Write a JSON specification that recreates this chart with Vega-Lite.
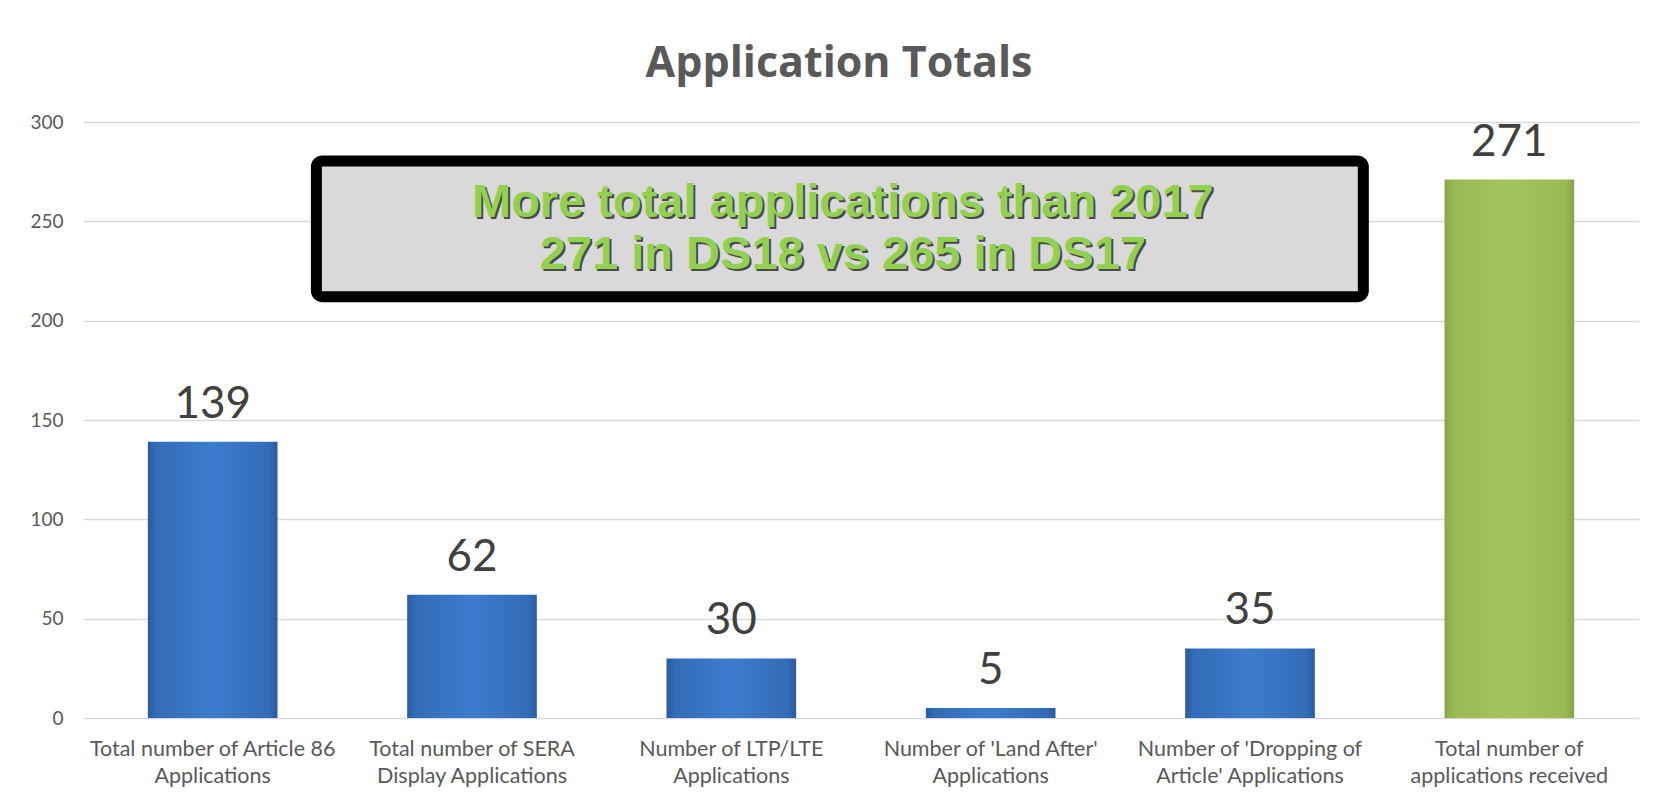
{
  "$schema": "https://vega.github.io/schema/vega-lite/v6.json",
  "width": 1556,
  "height": 596,
  "autosize": "none",
  "padding": {"left": 83, "top": 122, "right": 30, "bottom": 87},
  "background": "white",
  "title": {
    "text": "Application Totals",
    "font": "Open Sans",
    "fontSize": 43,
    "fontWeight": "bold",
    "color": "#595959",
    "anchor": "middle",
    "frame": "group",
    "offset": 27,
    "dx": -22
  },
  "datasets": {
    "apps": [
      {"category": "Total number of Article 86\nApplications", "value": 139, "kind": "blue"},
      {"category": "Total number of SERA\nDisplay Applications", "value": 62, "kind": "blue"},
      {"category": "Number of LTP/LTE\nApplications", "value": 30, "kind": "blue"},
      {"category": "Number of 'Land After'\nApplications", "value": 5, "kind": "blue"},
      {"category": "Number of 'Dropping of\nArticle' Applications", "value": 35, "kind": "blue"},
      {"category": "Total number of\napplications received", "value": 271, "kind": "green"}
    ],
    "note": [
      {"x1": 0.9, "x2": 4.937, "y1": 212.1, "y2": 280.4}
    ],
    "noteText": [
      {"line": "More total applications than 2017", "x": 2.93, "y": 259},
      {"line": "271 in DS18 vs 265 in DS17", "x": 2.93, "y": 233}
    ]
  },
  "layer": [
    {
      "data": {"name": "apps"},
      "encoding": {
        "x": {
          "field": "category",
          "type": "nominal",
          "sort": null,
          "scale": {"paddingInner": 0.5, "paddingOuter": 0.25},
          "axis": {"labelExpr": "split(datum.label, '\\n')"}
        },
        "y": {
          "field": "value",
          "type": "quantitative",
          "scale": {"domain": [0, 300], "nice": false},
          "axis": {"values": [0, 50, 100, 150, 200, 250, 300]}
        }
      },
      "layer": [
        {
          "transform": [{"filter": "datum.kind === 'blue'"}],
          "mark": {
            "type": "bar",
            "color": {
              "gradient": "linear",
              "x1": 0, "y1": 0, "x2": 1, "y2": 0,
              "stops": [
                {"offset": 0, "color": "#2a5c9f"},
                {"offset": 0.07, "color": "#336cb8"},
                {"offset": 0.5, "color": "#3d7cce"},
                {"offset": 0.93, "color": "#336cb8"},
                {"offset": 1, "color": "#2a5c9f"}
              ]
            }
          }
        },
        {
          "transform": [{"filter": "datum.kind === 'green'"}],
          "mark": {
            "type": "bar",
            "color": {
              "gradient": "linear",
              "x1": 0, "y1": 0, "x2": 1, "y2": 0,
              "stops": [
                {"offset": 0, "color": "#88a74a"},
                {"offset": 0.07, "color": "#98b954"},
                {"offset": 0.5, "color": "#a3c45e"},
                {"offset": 0.93, "color": "#98b954"},
                {"offset": 1, "color": "#88a74a"}
              ]
            }
          }
        },
        {
          "mark": {
            "type": "text",
            "font": "Lato",
            "fontSize": 44,
            "color": "#404040",
            "baseline": "alphabetic",
            "dy": -24
          },
          "encoding": {"text": {"field": "value", "type": "quantitative"}}
        }
      ]
    },
    {
      "data": {"name": "note"},
      "mark": {
        "type": "rect",
        "fill": "#d9d9d9",
        "stroke": "#000000",
        "strokeWidth": 11,
        "cornerRadius": 6
      },
      "encoding": {
        "x": {"field": "x1", "type": "quantitative", "scale": {"domain": [0, 6], "nice": false, "zero": false}, "axis": null},
        "x2": {"field": "x2"},
        "y": {"field": "y1", "type": "quantitative", "scale": {"domain": [0, 300], "nice": false}},
        "y2": {"field": "y2"}
      }
    },
    {
      "data": {"name": "noteText"},
      "mark": {
        "type": "text",
        "font": "'Liberation Sans Narrow', 'Liberation Sans', sans-serif",
        "fontSize": 47,
        "fontWeight": "bold",
        "color": "#4a4a4a",
        "dx": 2,
        "dy": 2
      },
      "encoding": {
        "x": {"field": "x", "type": "quantitative", "scale": {"domain": [0, 6], "nice": false, "zero": false}, "axis": null},
        "y": {"field": "y", "type": "quantitative", "scale": {"domain": [0, 300], "nice": false}},
        "text": {"field": "line", "type": "nominal"}
      }
    },
    {
      "data": {"name": "noteText"},
      "mark": {
        "type": "text",
        "font": "'Liberation Sans Narrow', 'Liberation Sans', sans-serif",
        "fontSize": 47,
        "fontWeight": "bold",
        "color": "#92d050"
      },
      "encoding": {
        "x": {"field": "x", "type": "quantitative", "scale": {"domain": [0, 6], "nice": false, "zero": false}, "axis": null},
        "y": {"field": "y", "type": "quantitative", "scale": {"domain": [0, 300], "nice": false}},
        "text": {"field": "line", "type": "nominal"}
      }
    }
  ],
  "resolve": {"scale": {"x": "independent"}},
  "config": {
    "view": {"stroke": null},
    "axis": {
      "domain": false,
      "ticks": false,
      "title": null,
      "labelFont": "Lato",
      "labelColor": "#595959",
      "gridColor": "#d9d9d9",
      "gridWidth": 1.3
    },
    "axisX": {
      "grid": false,
      "labelAngle": 0,
      "labelFontSize": 21.5,
      "labelPadding": 20,
      "labelLineHeight": 27,
      "labelBaseline": "top",
      "labelLimit": 0,
      "labelOverlap": false
    },
    "axisY": {
      "grid": true,
      "labelFontSize": 19,
      "labelPadding": 20
    }
  }
}
